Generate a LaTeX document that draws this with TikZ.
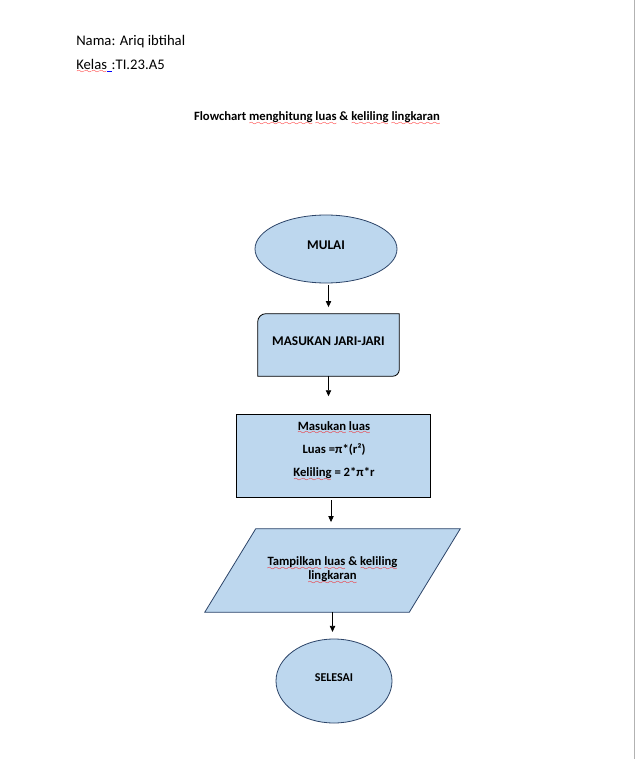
\documentclass[tikz,border=0pt]{standalone}
\usepackage{fontspec}
\setmainfont{Carlito}
\usepackage{xcolor}
\usetikzlibrary{arrows.meta,backgrounds,shapes.geometric}
\definecolor{boxblue}{RGB}{189,215,238}
\definecolor{edgeblue}{RGB}{44,68,104}
\font\wavefont=lasy6
\newsavebox\wavebox
\newcommand\redwave[1]{\sbox\wavebox{#1}\rlap{\textcolor{red}{\lower3.5pt\hbox to\wd\wavebox{\xleaders\hbox{\wavefont\char58}\hfill}}}\usebox\wavebox}

\begin{document}
\begin{tikzpicture}[x=0.75pt,y=0.75pt,
	plain/.style={inner sep=0pt,font=\fontsize{11}{13}\selectfont},
	terminal/.style={ellipse,draw=edgeblue,fill=boxblue,line width=0.6pt,inner sep=0pt},
	flowarrow/.style={line width=0.6pt,-{Triangle[length=4.5pt,width=4pt]}}]
			%%%%% START %%%%%
			\useasboundingbox (0,0) rectangle (635,-759);
			\draw[black!30, line width=0.75pt] (634,0) -- (634,-759);
			
			% header
			\node[plain, anchor=base west] (nama) at (76,-45.5) {Nama: Ariq ibtihal};
			\node[plain, anchor=base west] (kelas) at (76,-69.3) {\redwave{Kelas}\textcolor{blue}{\underline{\hspace{3.5pt}}}:TI.23.A5};
			\node[plain, anchor=base, font=\bfseries\fontsize{9.5}{12}\selectfont] (judul) at (317,-120.5)
				{Flowchart \redwave{menghitung} \redwave{luas} \& \redwave{keliling} \redwave{lingkaran}};
			
			% shapes
			\node[terminal, minimum width=106.5pt, minimum height=51pt, text depth=6pt,
				font=\bfseries\fontsize{10}{12}\selectfont] (mulai) at (326,-249) {MULAI};
			
			\node[minimum width=105.75pt, minimum height=46.5pt, inner sep=0pt, text depth=6pt,
				font=\bfseries\fontsize{10}{12}\selectfont] (jari) at (328.5,-345) {MASUKAN JARI-JARI};
			
			\node[draw, fill=boxblue, line width=0.6pt, minimum width=145.5pt, minimum height=62.25pt] (luas) at (333,-455.5) {};
			\node[align=center, inner sep=0pt, font=\bfseries\fontsize{9.5}{17.5}\selectfont] (luastxt) at (334,-451.5)
				{\redwave{Masukan} \redwave{luas}\\Luas =π*(r²)\\\redwave{Keliling} = 2*π*r};
			
			\node[minimum width=191.25pt, minimum height=62.25pt, inner sep=0pt, align=center,
				font=\bfseries\fontsize{9.5}{10.4}\selectfont] (tampil) at (332.5,-570.5)
				{\redwave{Tampilkan} \redwave{luas} \& \redwave{keliling}\\\redwave{lingkaran}};
			
			\node[terminal, minimum width=87pt, minimum height=63pt, text depth=4.5pt,
				font=\bfseries\fontsize{9}{11}\selectfont] (selesai) at (334,-681) {SELESAI};
			
			\begin{scope}[on background layer]
				\draw[line width=0.6pt, fill=boxblue] (jari.south west) -- ([yshift=-6pt]jari.north west)
					arc[start angle=180, end angle=90, radius=6pt] -- (jari.north east)
					-- ([yshift=5pt]jari.south east) arc[start angle=0, end angle=-90, radius=5pt] -- cycle;
				\draw[line width=0.6pt, draw=edgeblue, fill=boxblue] (tampil.south west) -- ([xshift=-38.25pt]tampil.south east)
					-- (tampil.north east) -- ([xshift=38.25pt]tampil.north west) -- cycle;
			\end{scope}
			
			% arrows
			\draw[flowarrow, shorten <=1.5pt, shorten >=5pt] (jari.north |- mulai.south) -- (jari.north);
			\draw[flowarrow, shorten >=13pt] (jari.south) -- (jari.south |- luas.north);
			\draw[flowarrow, shorten <=2pt, shorten >=5pt] ([xshift=-1.5pt]luas.south) -- ([xshift=-1.5pt]luas.south |- tampil.north);
			\draw[flowarrow, shorten >=5pt] (tampil.south) -- (tampil.south |- selesai.north);
			
			%%%%% END %%%%%
\end{tikzpicture}
\end{document}
